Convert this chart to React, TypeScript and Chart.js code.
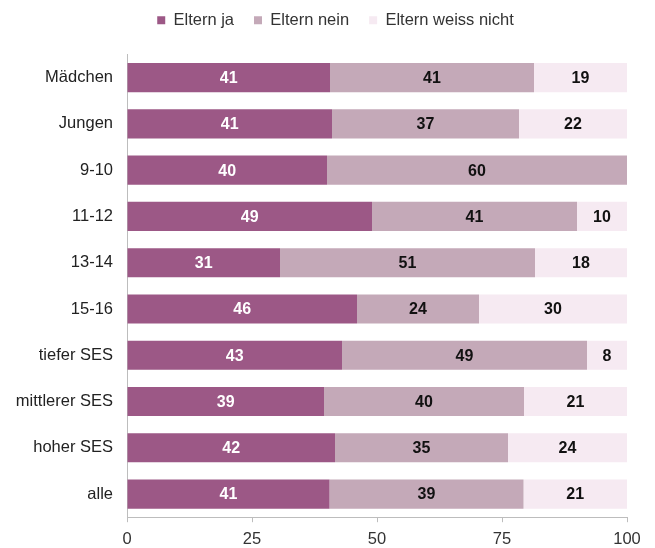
import React, { useEffect, useRef } from "react";
import { Chart, registerables } from "chart.js";

Chart.register(...registerables);

const categories = ["Mädchen", "Jungen", "9-10", "11-12", "13-14", "15-16", "tiefer SES", "mittlerer SES", "hoher SES", "alle"];
const elternJa = [40.6, 41.0, 40.0, 49.0, 30.6, 46.0, 43.0, 39.4, 41.6, 40.5];
const elternNein = [40.8, 37.4, 60.0, 41.0, 51.0, 24.4, 49.0, 40.0, 34.6, 38.8];
const elternWeiss = [18.6, 21.6, 0, 10.0, 18.4, 29.6, 8.0, 20.6, 23.8, 20.7];
const xTicks = [0, 25, 50, 75, 100];

const FONT = "'Liberation Sans', Arial, sans-serif";

const labelPlugin = {
  id: "segLabels",
  afterDatasetsDraw(chart: any) {
    const ctx = chart.ctx;
    ctx.save();
    ctx.font = `bold 16px ${FONT}`;
    ctx.textAlign = "center";
    ctx.textBaseline = "middle";
    chart.data.datasets.forEach((ds: any, di: number) => {
      const meta = chart.getDatasetMeta(di);
      meta.data.forEach((bar: any, i: number) => {
        const v = ds.data[i];
        if (!v) return;
        const x = (bar.x + bar.base) / 2;
        ctx.fillStyle = di === 0 ? "#ffffff" : "#111111";
        ctx.fillText(String(Math.round(v)), x, bar.y + 1);
      });
    });
    ctx.restore();
  },
};

const legendSpacing = {
  id: "legendSpacing",
  beforeInit(chart: any) {
    const orig = chart.legend.fit;
    chart.legend.fit = function () {
      orig.bind(chart.legend)();
      this.height += 16;
    };
  },
  afterLayout(chart: any) {
    if (chart.legend) {
      chart.legend.left += 22;
      chart.legend.right += 22;
    }
  },
};

export default function App() {
  const ref = useRef<HTMLCanvasElement | null>(null);
  useEffect(() => {
    if (!ref.current) return;
    const chart = new Chart(ref.current, {
      type: "bar",
      data: {
        labels: categories,
        datasets: [
          { label: "Eltern ja", data: elternJa, backgroundColor: "#9c5886" },
          { label: "Eltern nein", data: elternNein, backgroundColor: "#c4a9b8" },
          { label: "Eltern weiss nicht", data: elternWeiss, backgroundColor: "#f6eaf2" },
        ],
      },
      options: {
        indexAxis: "y",
        animation: false,
        responsive: true,
        maintainAspectRatio: false,
        datasets: { bar: { barPercentage: 0.63, categoryPercentage: 1.0 } },
        layout: { padding: { left: 0, right: 28, top: -8, bottom: -8 } },
        plugins: {
          legend: {
            position: "top",
            labels: {
              boxWidth: 8,
              boxHeight: 8,
              padding: 20,
              color: "#333",
              font: { family: FONT, size: 16.5 },
            },
          },
          tooltip: { enabled: false },
        },
        scales: {
          x: {
            stacked: true,
            min: 0,
            max: 100,
            afterBuildTicks(scale: any) {
              scale.ticks = xTicks.map((v) => ({ value: v }));
            },
            grid: {
              display: true,
              drawOnChartArea: false,
              drawTicks: true,
              tickLength: 5,
              color: "#bdbdbd",
            },
            border: { display: true, color: "#bdbdbd" },
            ticks: { color: "#333", padding: 7, font: { family: FONT, size: 16.5 } },
          },
          y: {
            stacked: true,
            afterFit(scale: any) {
              scale.width = 127;
            },
            grid: { display: false },
            border: { display: true, color: "#bdbdbd" },
            ticks: { color: "#222", padding: 6, font: { family: FONT, size: 16.5 } },
          },
        },
      },
      plugins: [labelPlugin, legendSpacing],
    } as any);
    return () => chart.destroy();
  }, []);
  return (
    <div style={{ position: "fixed", left: 0, top: 0, width: 655, height: 548, background: "#fff" }}>
      <canvas ref={ref} />
    </div>
  );
}
